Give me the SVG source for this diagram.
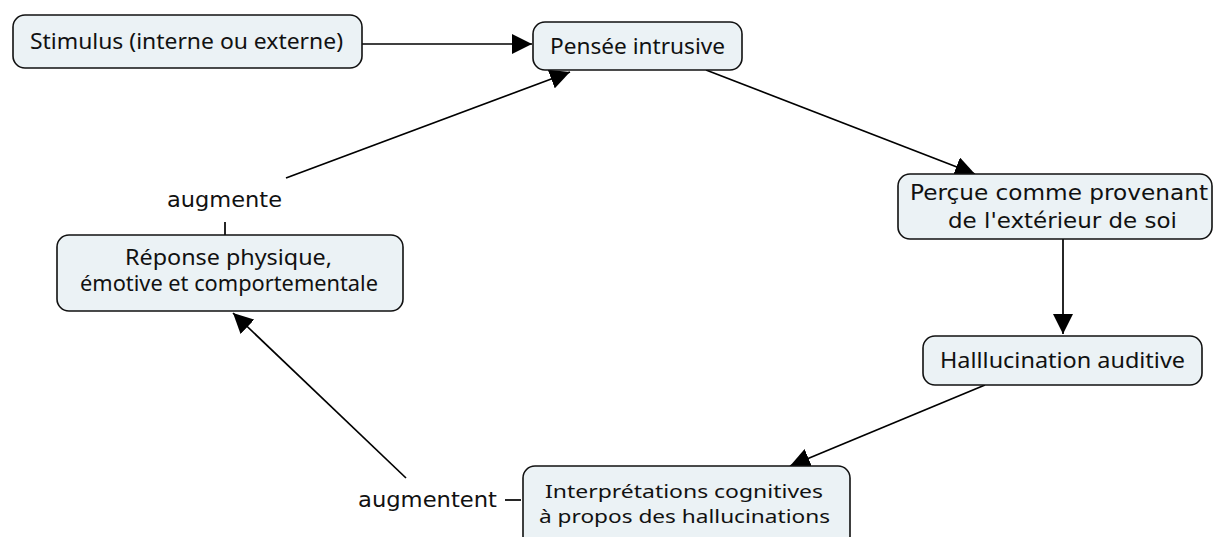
<svg xmlns="http://www.w3.org/2000/svg" width="1215" height="537" viewBox="0 0 1215 537">
<style>
.node{fill:#ebf2f5;stroke:#111;stroke-width:1.6}
.t{font-family:"Noto Sans","Open Sans",sans-serif;font-size:21px;fill:#111;text-anchor:middle}
.t2{font-family:"Noto Sans","Open Sans",sans-serif;font-size:18px;fill:#111;text-anchor:middle}
.v{font-family:"DejaVu Sans","Liberation Sans",sans-serif;font-size:21px;fill:#111;text-anchor:middle}
.c{stroke:#000;stroke-width:1.7;fill:none}
</style>
<defs>
<marker id="ah" viewBox="0 0 20 20" refX="20" refY="10" markerWidth="20" markerHeight="20" markerUnits="userSpaceOnUse" orient="auto">
<path d="M0,0 L20,10 L0,20 z" fill="#000"/>
</marker>
</defs>
<rect width="1215" height="537" fill="#fff"/>
<g id="connectors">
<path class="c" d="M362,44 L532,44" marker-end="url(#ah)"/>
<path class="c" d="M286,178 L570,72" marker-end="url(#ah)"/>
<path class="c" d="M225,222 L225,235"/>
<path class="c" d="M706,70 L975,174" marker-end="url(#ah)"/>
<path class="c" d="M1063,239 L1063,334" marker-end="url(#ah)"/>
<path class="c" d="M985,385 L790,466" marker-end="url(#ah)"/>
<path class="c" d="M406,478 L233,313" marker-end="url(#ah)"/>
<path class="c" d="M505,500 L521,500"/>
<text class="v" x="224.5" y="207" textLength="115" lengthAdjust="spacingAndGlyphs">augmente</text>
<text class="v" x="427.5" y="507" textLength="139" lengthAdjust="spacingAndGlyphs">augmentent</text>
</g>
<g id="n-stimulus">
<rect class="node" x="13" y="15" width="349" height="53" rx="12"/>
<text class="t" x="186.5" y="49" textLength="313" lengthAdjust="spacingAndGlyphs">Stimulus (interne ou externe)</text>
</g>
<g id="n-pensee">
<rect class="node" x="533" y="22" width="209" height="48" rx="12"/>
<text class="t" x="637.5" y="54" textLength="175" lengthAdjust="spacingAndGlyphs">Pensée intrusive</text>
</g>
<g id="n-percue">
<rect class="node" x="898" y="174" width="314" height="65" rx="12"/>
<text class="v" x="1059" y="200" textLength="298" lengthAdjust="spacingAndGlyphs">Perçue comme provenant</text>
<text class="v" x="1062.5" y="228" textLength="229" lengthAdjust="spacingAndGlyphs">de l'extérieur de soi</text>
</g>
<g id="n-hallucination">
<rect class="node" x="923" y="336" width="279" height="49" rx="12"/>
<text class="t" x="1062.5" y="368" textLength="245" lengthAdjust="spacingAndGlyphs">Halllucination auditive</text>
</g>
<g id="n-reponse">
<rect class="node" x="57" y="235" width="346" height="76" rx="12"/>
<text class="t" x="228.5" y="265" textLength="207" lengthAdjust="spacingAndGlyphs">Réponse physique,</text>
<text class="t" x="229" y="291" textLength="298" lengthAdjust="spacingAndGlyphs">émotive et comportementale</text>
</g>
<g id="n-interpretations">
<rect class="node" x="523" y="466" width="327" height="82" rx="12"/>
<text class="t2" x="684" y="498" textLength="278" lengthAdjust="spacingAndGlyphs">Interprétations cognitives</text>
<text class="t2" x="684.5" y="523" textLength="291" lengthAdjust="spacingAndGlyphs">à propos des hallucinations</text>
</g>
</svg>
